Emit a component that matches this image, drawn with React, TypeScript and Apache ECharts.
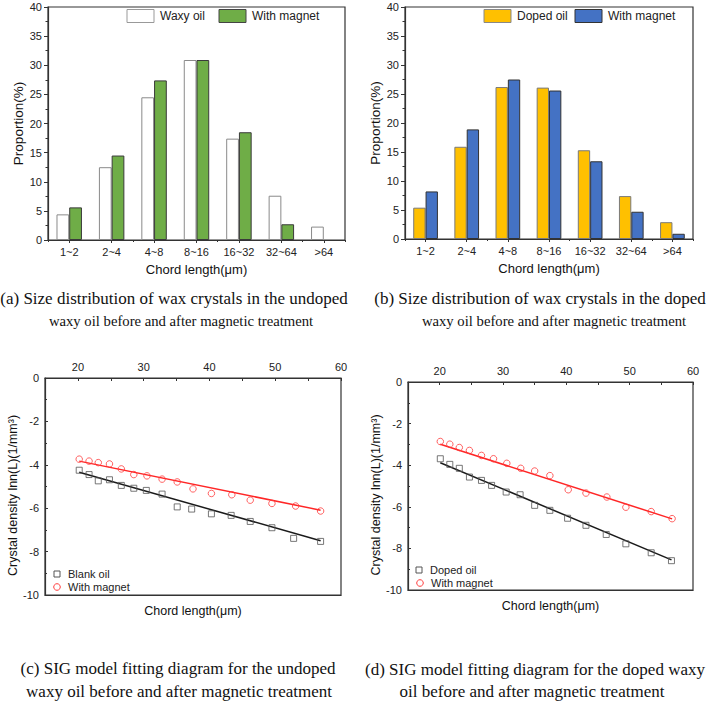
import React, { useEffect, useRef } from "react";
import * as echarts from "echarts";

// ---- Data ----
const barCats = ["1~2", "2~4", "4~8", "8~16", "16~32", "32~64", ">64"];
const waxyOil = [4.4, 12.5, 24.5, 30.9, 17.4, 7.6, 2.3];
const waxyMagnet = [5.6, 14.5, 27.4, 30.9, 18.5, 2.7, null];
const dopedOil = [5.4, 15.9, 26.2, 26.1, 15.3, 7.4, 2.9];
const dopedMagnet = [8.2, 18.9, 27.5, 25.6, 13.4, 4.7, 0.9];

const blankX = [20.2, 21.7, 23.1, 24.8, 26.6, 28.5, 30.4, 32.8, 35.1, 37.3, 40.3, 43.3, 46.2, 49.5, 52.8, 56.9];
const blankY = [-4.25, -4.45, -4.74, -4.69, -4.95, -5.08, -5.18, -5.35, -5.94, -6.04, -6.26, -6.33, -6.61, -6.9, -7.39, -7.53];
const magCX = [20.2, 21.7, 23.1, 24.8, 26.6, 28.5, 30.5, 32.8, 35.1, 37.5, 40.3, 43.4, 46.2, 49.5, 53.1, 56.9];
const magCY = [-3.74, -3.83, -3.9, -3.96, -4.19, -4.45, -4.51, -4.66, -4.79, -5.11, -5.32, -5.38, -5.63, -5.78, -5.9, -6.13];
const blankFitX = [20.2, 56.9];
const blankFitY = [-4.34, -7.5];
const magCFitX = [20.2, 56.9];
const magCFitY = [-3.83, -6.09];

const dopedX = [20.1, 21.6, 23.1, 24.7, 26.6, 28.2, 30.5, 32.7, 35.0, 37.4, 40.2, 43.1, 46.3, 49.4, 53.4, 56.6];
const dopedY = [-3.69, -3.96, -4.15, -4.57, -4.73, -4.97, -5.29, -5.42, -5.93, -6.17, -6.55, -6.89, -7.33, -7.78, -8.21, -8.59];
const magDX = [20.1, 21.6, 23.1, 24.7, 26.6, 28.5, 30.6, 32.8, 35.0, 37.4, 40.3, 43.1, 46.4, 49.4, 53.4, 56.7];
const magDY = [-2.86, -2.99, -3.15, -3.29, -3.53, -3.69, -3.91, -4.15, -4.28, -4.5, -5.18, -5.34, -5.53, -6.02, -6.23, -6.57];
const dopedFitX = [20.1, 56.6];
const dopedFitY = [-3.88, -8.55];
const magDFitX = [20.1, 56.7];
const magDFitY = [-2.99, -6.58];

const captions = [
  { text: "(a) Size distribution of wax crystals in the undoped", x: 174, y: 298, size: 17 },
  { text: "waxy oil before and after magnetic treatment", x: 181, y: 321, size: 14.7 },
  { text: "(b) Size distribution of wax crystals in the doped", x: 540, y: 298, size: 17 },
  { text: "waxy oil before and after magnetic treatment", x: 554, y: 321, size: 14.7 },
  { text: "(c) SIG model fitting diagram for the undoped", x: 178, y: 668, size: 17 },
  { text: "waxy oil before and after magnetic treatment", x: 179, y: 691, size: 17 },
  { text: "(d) SIG model fitting diagram for the doped waxy", x: 535, y: 669, size: 17 },
  { text: "oil before and after magnetic treatment", x: 532, y: 691, size: 17 },
];

const zip = (xs: number[], ys: number[]) => xs.map((x, i) => [x, ys[i]]);

const FONT = "Liberation Sans";
const AX = "#333";

function barX(grid: number, main: boolean) {
  return {
    type: "category",
    gridIndex: grid,
    data: barCats,
    position: "bottom",
    axisLine: { show: main, lineStyle: { color: AX, width: 1.2 } },
    axisTick: main
      ? { show: true, alignWithLabel: true, length: 3, lineStyle: { color: AX } }
      : { show: true, length: 2, lineStyle: { color: AX } },
    axisLabel: main
      ? { show: true, fontFamily: FONT, fontSize: 11, color: "#222", margin: 6 }
      : { show: false },
    name: main ? "Chord length(μm)" : "",
    nameLocation: "middle",
    nameGap: 23,
    nameTextStyle: { fontFamily: FONT, fontSize: 13, color: "#111" },
    splitLine: { show: false },
  };
}

function barY(grid: number, gap: number) {
  return {
    type: "value",
    gridIndex: grid,
    min: 0,
    max: 40,
    interval: 5,
    axisLine: { show: true, lineStyle: { color: AX, width: 1.2 } },
    axisTick: { show: true, length: 4, lineStyle: { color: AX } },
    minorTick: { show: true, splitNumber: 2, length: 2.5, lineStyle: { color: AX } },
    axisLabel: { fontFamily: FONT, fontSize: 11, color: "#222", margin: 6 },
    splitLine: { show: false },
    name: "Proportion(%)",
    nameLocation: "middle",
    nameGap: gap,
    nameTextStyle: { fontFamily: FONT, fontSize: 13.5, color: "#111" },
  };
}

function sigTopX(grid: number) {
  return {
    type: "value",
    gridIndex: grid,
    position: "top",
    min: 15,
    max: 60,
    interval: 5,
    axisLine: { show: true, lineStyle: { color: AX, width: 1.2 } },
    axisTick: { show: true, inside: true, length: 3, lineStyle: { color: AX } },
    axisLabel: {
      fontFamily: FONT,
      fontSize: 11,
      color: "#222",
      margin: 6,
      showMinLabel: true,
      showMaxLabel: true,
      formatter: (v: number) => (v % 10 === 0 ? String(v) : ""),
    },
    splitLine: { show: false },
  };
}

function sigBottomX(grid: number) {
  return {
    type: "value",
    gridIndex: grid,
    position: "bottom",
    min: 15,
    max: 60,
    axisLine: { show: true, lineStyle: { color: AX, width: 1.2 } },
    axisTick: { show: false },
    axisLabel: { show: false },
    splitLine: { show: false },
    name: "Chord length(μm)",
    nameLocation: "middle",
    nameGap: 9,
    nameTextStyle: { fontFamily: FONT, fontSize: 12.5, color: "#111", verticalAlign: "top" },
  };
}

function sigY(grid: number, gap: number) {
  return {
    type: "value",
    gridIndex: grid,
    min: -10,
    max: 0,
    interval: 2,
    axisLine: { show: true, lineStyle: { color: AX, width: 1.2 } },
    axisTick: { show: true, inside: true, length: 3, lineStyle: { color: AX } },
    minorTick: { show: true, splitNumber: 2, length: 2, lineStyle: { color: AX } },
    axisLabel: { fontFamily: FONT, fontSize: 11, color: "#222", margin: 6 },
    splitLine: { show: false },
    name: "Crystal density lnn(L)(1/mm³)",
    nameLocation: "middle",
    nameGap: gap,
    nameTextStyle: { fontFamily: FONT, fontSize: 12.5, color: "#111", padding: [0, 18, 0, 0] },
  };
}

function scatter(name: string, xi: number, yi: number, data: number[][], symbol: string, color: string, size: number) {
  return {
    type: "scatter",
    name,
    xAxisIndex: xi,
    yAxisIndex: yi,
    data,
    symbol,
    symbolSize: size,
    itemStyle: { color: "rgba(0,0,0,0)", borderColor: color, borderWidth: 1 },
    z: 3,
  };
}

function fit(xi: number, yi: number, data: number[][], color: string) {
  return {
    type: "line",
    xAxisIndex: xi,
    yAxisIndex: yi,
    data,
    showSymbol: false,
    symbol: "none",
    lineStyle: { color, width: 1.5 },
    z: 2,
  };
}

function legendBox(x: number, y: number, fill: string, stroke: string, label: string) {
  return [
    { type: "rect", shape: { x, y, width: 27, height: 13 }, style: { fill, stroke, lineWidth: 1 } },
    {
      type: "text",
      x: x + 33,
      y: y + 6.5,
      style: { text: label, font: `12px "${FONT}"`, fill: "#222", verticalAlign: "middle" },
    },
  ];
}

function legendMarker(x: number, y: number, kind: string, color: string, label: string) {
  const mark =
    kind === "rect"
      ? { type: "rect", shape: { x: x - 3, y: y - 3, width: 6, height: 6 }, style: { fill: "none", stroke: color, lineWidth: 1 } }
      : { type: "circle", shape: { cx: x, cy: y, r: 3.3 }, style: { fill: "none", stroke: color, lineWidth: 1 } };
  return [
    mark,
    {
      type: "text",
      x: x + 11,
      y,
      style: { text: label, font: `11px "${FONT}"`, fill: "#222", verticalAlign: "middle" },
    },
  ];
}

export default function App() {
  const ref = useRef<HTMLDivElement>(null);
  useEffect(() => {
    if (!ref.current) return;
    const chart = echarts.init(ref.current, null, { renderer: "svg" });
    const gridBase = { show: true, borderColor: AX, borderWidth: 1.2, backgroundColor: "transparent", containLabel: false };
    const option: any = {
      animation: false,
      backgroundColor: "#fff",
      grid: [
        { ...gridBase, left: 48, top: 7, width: 297, height: 233 },
        { ...gridBase, left: 405, top: 7, width: 288, height: 232 },
        { ...gridBase, left: 45, top: 378, width: 296, height: 217 },
        { ...gridBase, left: 408, top: 382, width: 285, height: 208 },
      ],
      xAxis: [barX(0, true), barX(0, false), barX(1, true), barX(1, false), sigTopX(2), sigBottomX(2), sigTopX(3), sigBottomX(3)],
      yAxis: [barY(0, 23), barY(1, 21.5), sigY(2, 22.5), sigY(3, 22)],
      series: [
        {
          type: "bar", name: "Waxy oil", xAxisIndex: 0, yAxisIndex: 0, data: waxyOil,
          barWidth: "30%", barGap: "0%",
          itemStyle: { color: "#ffffff", borderColor: "#8a8a8a", borderWidth: 1 },
        },
        {
          type: "bar", name: "With magnet", xAxisIndex: 0, yAxisIndex: 0, data: waxyMagnet,
          barWidth: "30%", barGap: "0%",
          itemStyle: { color: "#6fad47", borderColor: "#3a3a3a", borderWidth: 1 },
        },
        {
          type: "bar", name: "Doped oil", xAxisIndex: 2, yAxisIndex: 1, data: dopedOil,
          barWidth: "30%", barGap: "0%",
          itemStyle: { color: "#ffc000", borderColor: "#7a7a7a", borderWidth: 1 },
        },
        {
          type: "bar", name: "With magnet", xAxisIndex: 2, yAxisIndex: 1, data: dopedMagnet,
          barWidth: "30%", barGap: "0%",
          itemStyle: { color: "#4472c4", borderColor: "#333", borderWidth: 1 },
        },
        fit(4, 2, zip(blankFitX, blankFitY), "#1a1a1a"),
        fit(4, 2, zip(magCFitX, magCFitY), "#ff2626"),
        scatter("Blank oil", 4, 2, zip(blankX, blankY), "rect", "#555", 6),
        scatter("With magnet", 4, 2, zip(magCX, magCY), "circle", "#ff3b3b", 6.5),
        fit(6, 3, zip(dopedFitX, dopedFitY), "#1a1a1a"),
        fit(6, 3, zip(magDFitX, magDFitY), "#ff2626"),
        scatter("Doped oil", 6, 3, zip(dopedX, dopedY), "rect", "#555", 6),
        scatter("With magnet", 6, 3, zip(magDX, magDY), "circle", "#ff3b3b", 6.5),
      ],
      graphic: [
        ...legendBox(127, 9.5, "#ffffff", "#999", "Waxy oil"),
        ...legendBox(219, 9.5, "#6fad47", "#444", "With magnet"),
        ...legendBox(484, 9.5, "#ffc000", "#888", "Doped oil"),
        ...legendBox(575, 9.5, "#4472c4", "#333", "With magnet"),
        ...legendMarker(57, 574, "rect", "#555", "Blank oil"),
        ...legendMarker(57, 587, "circle", "#ff3b3b", "With magnet"),
        ...legendMarker(419, 570, "rect", "#555", "Doped oil"),
        ...legendMarker(420, 583, "circle", "#ff3b3b", "With magnet"),
        ...captions.map((c) => ({
          type: "text",
          x: c.x,
          y: c.y,
          style: {
            text: c.text,
            font: `${c.size}px "Liberation Serif"`,
            fill: "#111",
            align: "center",
            verticalAlign: "middle",
          },
        })),
      ],
    };
    chart.setOption(option);
    return () => chart.dispose();
  }, []);
  return <div ref={ref} style={{ position: "absolute", left: 0, top: 0, width: 709, height: 705 }} />;
}
